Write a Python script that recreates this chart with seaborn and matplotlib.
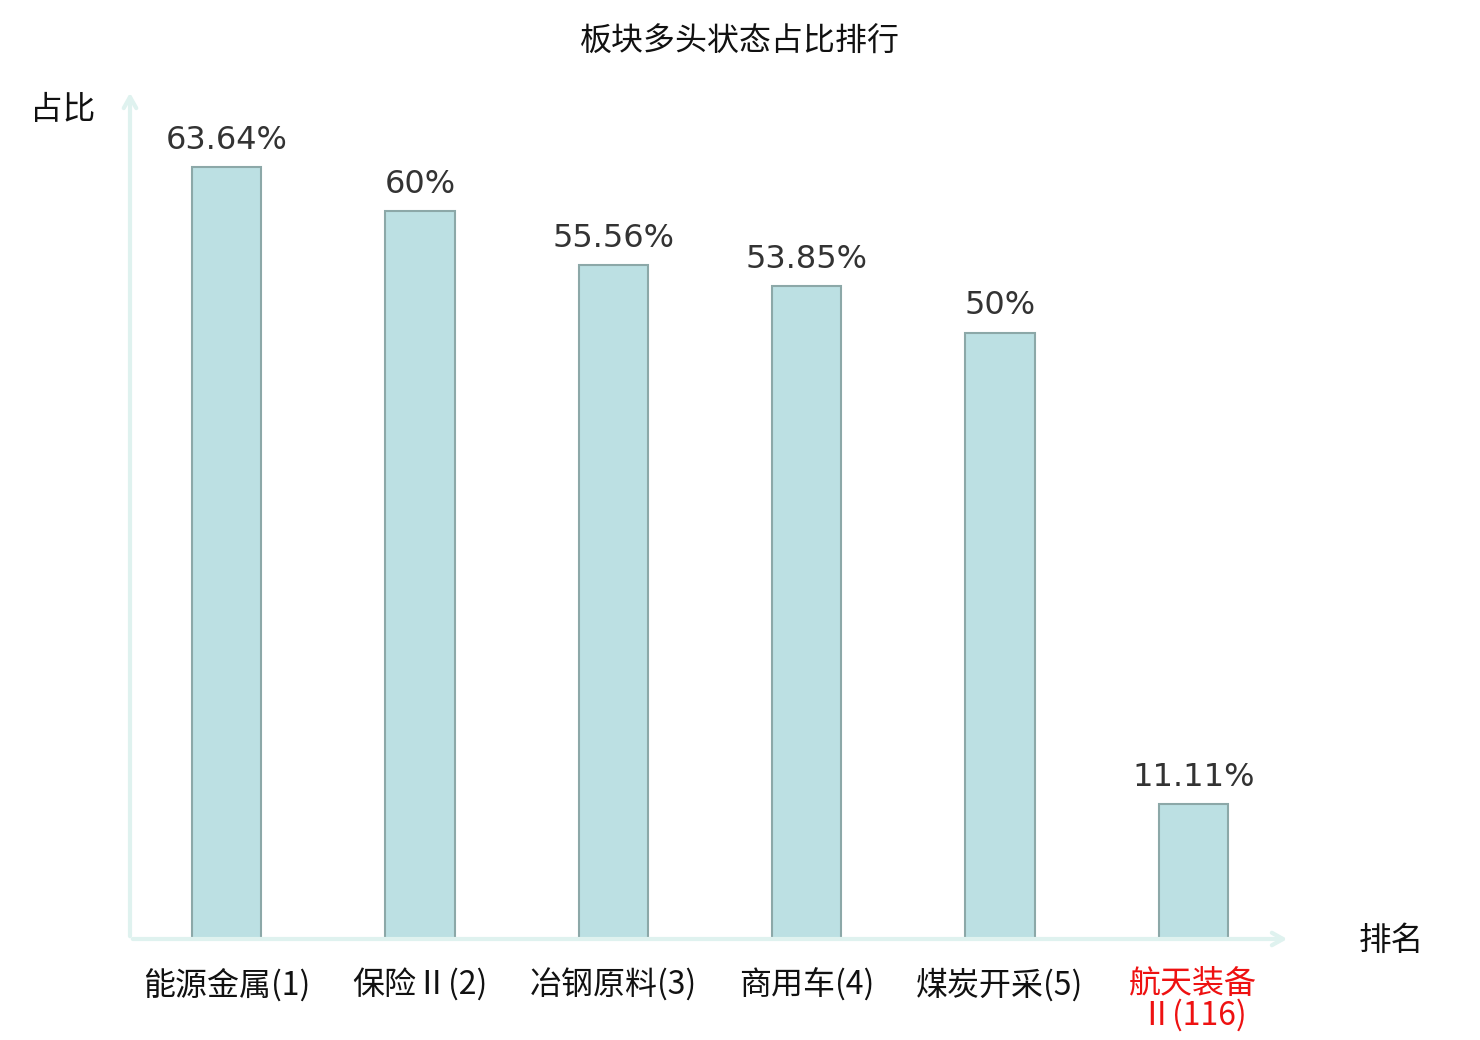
import seaborn as sns
import matplotlib.pyplot as plt
import pandas as pd

# data
sectors = ["能源金属(1)", "保险Ⅱ(2)", "冶钢原料(3)", "商用车(4)", "煤炭开采(5)", "航天装备\nⅡ(116)"]
ratios = [63.64, 60, 55.56, 53.85, 50, 11.11]
label_colors = ["#111111", "#111111", "#111111", "#111111", "#111111", "#ee1111"]

df = pd.DataFrame({"sector": sectors, "ratio": ratios})

sns.set_style("white")
plt.rcParams['font.family'] = ['Noto Sans CJK SC', 'DejaVu Sans']

fig = plt.figure(figsize=(14.8, 10.4), dpi=100)
ax = fig.add_axes([130 / 1480, 1 - 939 / 1040, 1160 / 1480, 849 / 1040])

sns.barplot(data=df, x="sector", y="ratio", color="#bce0e3", saturation=1,
            width=0.36, edgecolor="#8ca8a8", linewidth=1.5, ax=ax)

ax.bar_label(ax.containers[0], labels=[f"{v:g}%" for v in ratios], padding=8,
             fontsize=23, color="#333333", family="DejaVu Sans")

ax.set_xlim(-0.5, 5.5)
ax.set_ylim(0, 70)
ax.set_yticks([])
ax.set_xlabel("")
ax.set_ylabel("")
for s in ax.spines.values():
    s.set_visible(False)

ax.tick_params(axis="x", length=0, pad=21, labelsize=23)
for lab, c in zip(ax.get_xticklabels(), label_colors):
    lab.set_color(c)
    lab.set_linespacing(0.95)

# axis arrows
arrow = dict(arrowstyle="->,head_length=0.8,head_width=0.45", color="#dff2ef", lw=3)
ax.annotate("", xy=(0, 1.0), xytext=(0, 0), xycoords="axes fraction", arrowprops=arrow, annotation_clip=False)
ax.annotate("", xy=(1.0, 0), xytext=(0, 0), xycoords="axes fraction", arrowprops=arrow, annotation_clip=False)

fig.text(63 / 1480, 1 - 110 / 1040, "占比", fontsize=23.5, ha="center", va="center", color="#111111")
fig.text(1391 / 1480, 1 - 941 / 1040, "排名", fontsize=23.5, ha="center", va="center", color="#111111")
fig.text(0.5, 1 - 42 / 1040, "板块多头状态占比排行", fontsize=23, ha="center", va="center", color="#111111")

fig.savefig("out.png", dpi=100)
